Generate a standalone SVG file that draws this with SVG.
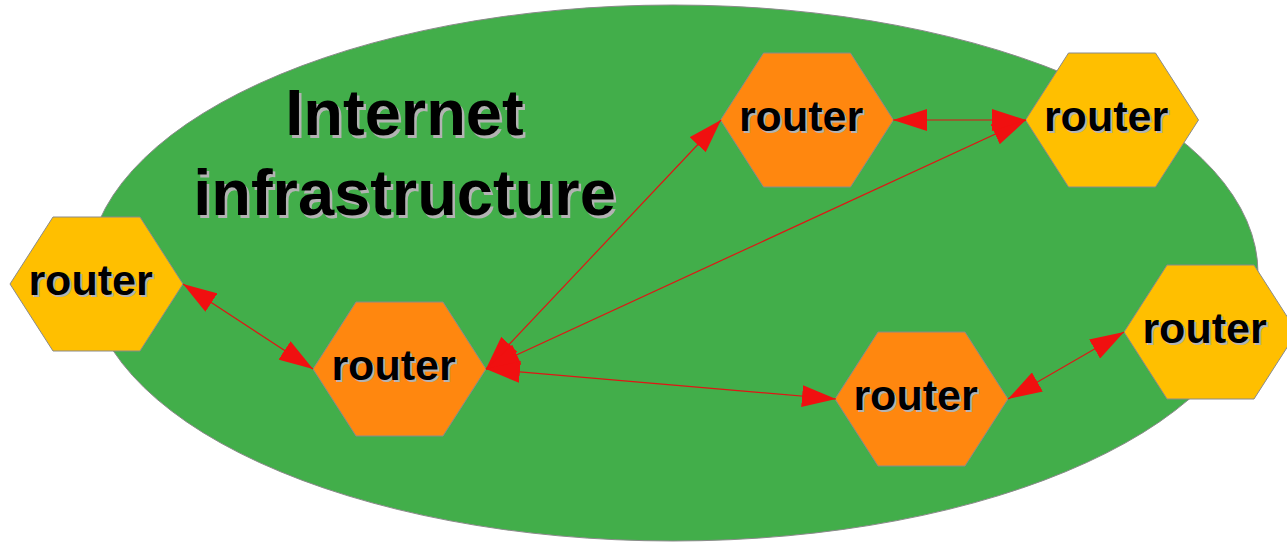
<svg xmlns="http://www.w3.org/2000/svg" width="1287" height="542" viewBox="0 0 1287 542">
<style>
.hexY{fill:#ffbf00;stroke:#8a8a8a;stroke-width:1}
.hexO{fill:#ff870f;stroke:#8a8a8a;stroke-width:1}
.lbl{font-family:"Liberation Sans",Arial,sans-serif;font-weight:bold;font-size:43px;text-anchor:middle}
.ttl{font-family:"Liberation Sans",Arial,sans-serif;font-weight:bold;font-size:65px;text-anchor:middle}
.sh{fill:#b3b3b3}
.fg{fill:#000}
.edge{stroke:#e01515;stroke-width:1.2;fill:none;marker-start:url(#ah);marker-end:url(#ah)}
</style>
<defs>
<polygon id="hex" points="-86.5,0 -43.5,-67 43.5,-67 86.5,0 43.5,67 -43.5,67"/>
<marker id="ah" viewBox="0 0 34 22" refX="34" refY="11" markerWidth="34" markerHeight="22" markerUnits="userSpaceOnUse" orient="auto-start-reverse">
<path d="M0,0 L34,11 L0,22 z" fill="#f01010"/>
</marker>
</defs>
<rect width="1287" height="542" fill="#fff"/>
<ellipse id="internet" cx="673" cy="273" rx="585" ry="268" fill="#42ae4a" stroke="#8a8a8a" stroke-width="1"/>
<g id="title">
<text class="ttl sh" x="407" y="137.5">Internet</text>
<text class="ttl fg" x="404.5" y="135">Internet</text>
<text class="ttl sh" x="407" y="217.5">infrastructure</text>
<text class="ttl fg" x="404.5" y="215">infrastructure</text>
</g>
<g id="router-left" transform="translate(96.5,284)">
<use href="#hex" class="hexY"/>
<text class="lbl sh" x="-4" y="13">router</text>
<text class="lbl fg" x="-6" y="11">router</text>
</g>
<g id="router-center" transform="translate(399.5,369)">
<use href="#hex" class="hexO"/>
<text class="lbl sh" x="-4" y="13">router</text>
<text class="lbl fg" x="-6" y="11">router</text>
</g>
<g id="router-top" transform="translate(807,120)">
<use href="#hex" class="hexO"/>
<text class="lbl sh" x="-4" y="13">router</text>
<text class="lbl fg" x="-6" y="11">router</text>
</g>
<g id="router-topright" transform="translate(1112,120)">
<use href="#hex" class="hexY"/>
<text class="lbl sh" x="-4" y="13">router</text>
<text class="lbl fg" x="-6" y="11">router</text>
</g>
<g id="router-bottom" transform="translate(921.5,399)">
<use href="#hex" class="hexO"/>
<text class="lbl sh" x="-4" y="13">router</text>
<text class="lbl fg" x="-6" y="11">router</text>
</g>
<g id="router-right" transform="translate(1210.5,332)">
<use href="#hex" class="hexY"/>
<text class="lbl sh" x="-4" y="13">router</text>
<text class="lbl fg" x="-6" y="11">router</text>
</g>
<g id="connectors">
<line class="edge" x1="183" y1="284" x2="313" y2="369"/>
<line class="edge" x1="486" y1="369" x2="721" y2="120"/>
<line class="edge" x1="486" y1="369" x2="1026" y2="120"/>
<line class="edge" x1="486" y1="369" x2="836" y2="399"/>
<line class="edge" x1="893" y1="120" x2="1026" y2="120"/>
<line class="edge" x1="1008" y1="399" x2="1124" y2="332"/>
</g>
</svg>
